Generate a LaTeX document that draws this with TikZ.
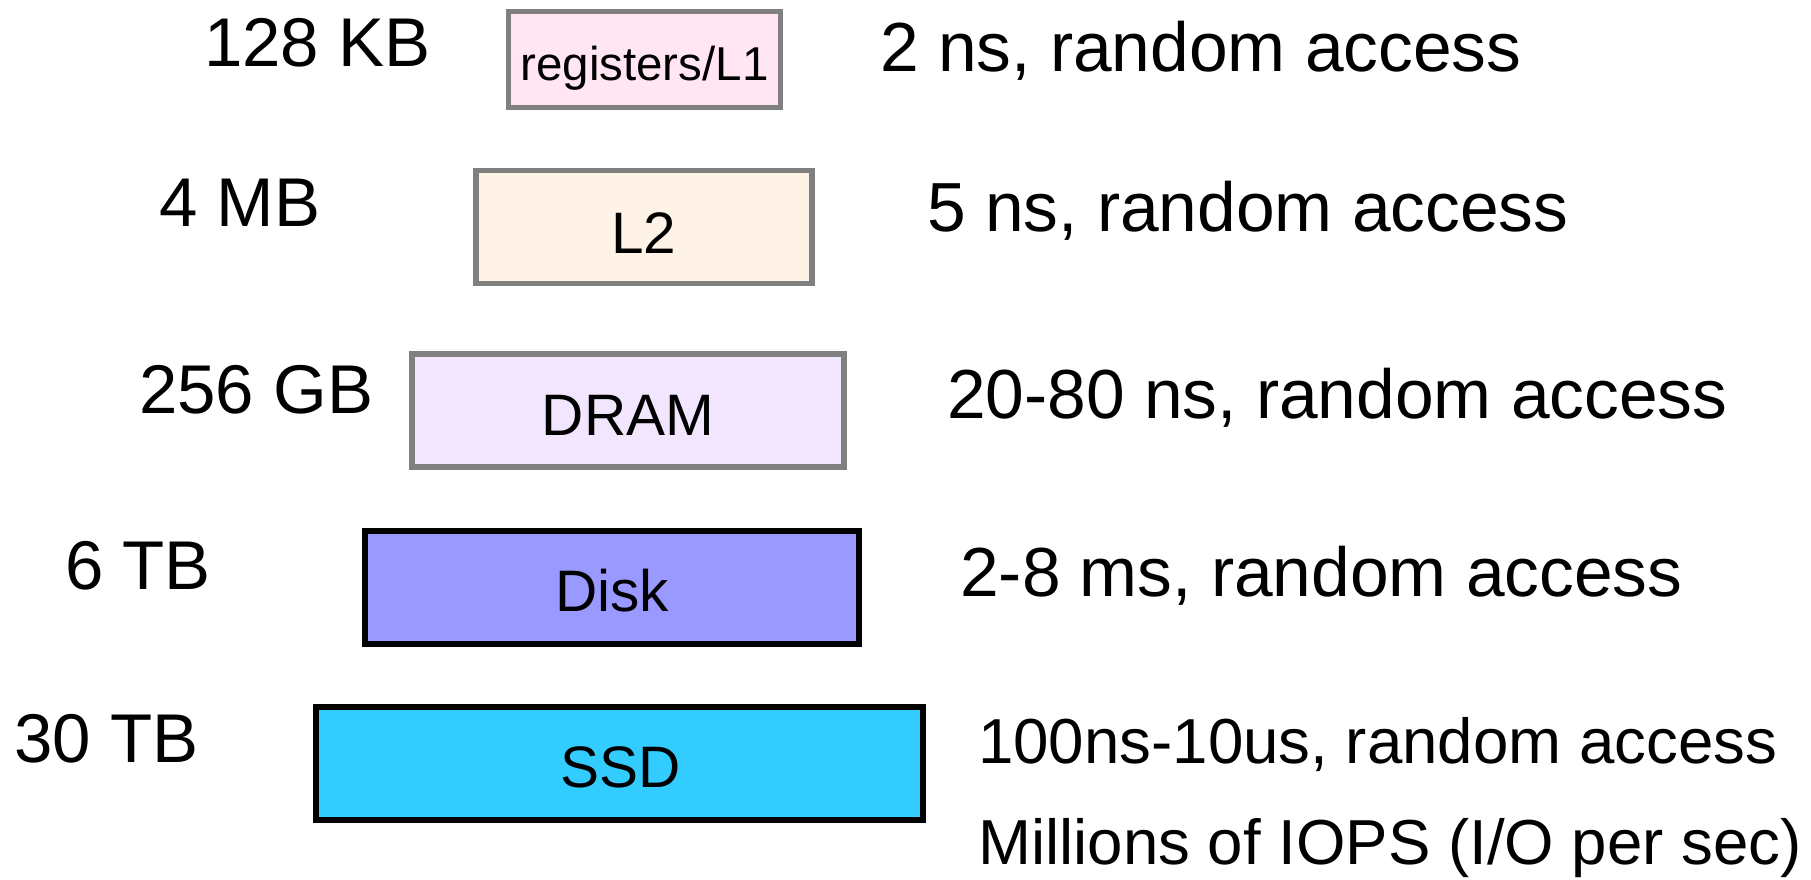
\documentclass[tikz,border=0pt]{standalone}
\usepackage{fontspec}
\setmainfont{Liberation Sans}
\definecolor{lonefill}{HTML}{FFE6F2}
\definecolor{ltwofill}{HTML}{FFF2E6}
\definecolor{dramfill}{HTML}{F2E6FF}
\definecolor{diskfill}{HTML}{9999FF}
\definecolor{ssdfill}{HTML}{33CCFF}
\definecolor{edgegray}{HTML}{808080}
\tikzset{
  tier/.style={draw, rectangle, line width=5.5pt, inner sep=0pt},
  fasttier/.style={tier, draw=edgegray},
  slowtier/.style={tier, draw=black, line width=6pt},
  sizelbl/.style={anchor=base west, inner sep=0pt, font=\fontsize{69}{80}\selectfont},
  speedlbl/.style={anchor=base west, inner sep=0pt, font=\fontsize{69.5}{80}\selectfont},
  ssdlbl/.style={anchor=base west, inner sep=0pt, font=\fontsize{63.6}{75}\selectfont},
  tiername/.style={anchor=base, inner sep=0pt, font=\fontsize{58.5}{68}\selectfont},
}
\begin{document}
\begin{tikzpicture}[x=1pt, y=-1pt]
\useasboundingbox (0,0) rectangle (1811,880);

% storage tiers
\node[fasttier, fill=lonefill, minimum width=272pt, minimum height=96pt]  (l1)   at (644.5,59.5) {};
\node[fasttier, fill=ltwofill, minimum width=336pt, minimum height=113pt] (l2)   at (644,227) {};
\node[fasttier, fill=dramfill, minimum width=432pt, minimum height=113pt] (dram) at (628,410.5) {};
\node[slowtier, fill=diskfill, minimum width=494pt, minimum height=113pt] (disk) at (612,587) {};
\node[slowtier, fill=ssdfill,  minimum width=607pt, minimum height=113pt] (ssd)  at (619.5,763) {};

% tier names
\node[tiername, font=\fontsize{47.5}{56}\selectfont] (l1t) at (644.5,81) {registers/L1};
\node[tiername] (l2t)   at (644,253) {L2};
\node[tiername] (dramt) at (628,435) {DRAM};
\node[tiername] (diskt) at (612,611) {Disk};
\node[tiername] (ssdt)  at (620.5,787) {SSD};

% capacities
\node[sizelbl] (l1s)   at (204,67)  {128 KB};
\node[sizelbl] (l2s)   at (159,226) {4 MB};
\node[sizelbl] (drams) at (139,413) {256 GB};
\node[sizelbl] (disks) at (65,589)  {6 TB};
\node[sizelbl] (ssds)  at (14,762)  {30 TB};

% access times
\node[speedlbl] (l1a)   at (880,72)  {2 ns, random access};
\node[speedlbl] (l2a)   at (927,231) {5 ns, random access};
\node[speedlbl] (drama) at (947,418) {20-80 ns, random access};
\node[speedlbl] (diska) at (960,596) {2-8 ms, random access};
\node[ssdlbl]   (ssda)  at (978,763) {100ns-10us, random access};
\node[ssdlbl]   (ssdb)  at (978,864) {Millions of IOPS (I/O per sec)};
\end{tikzpicture}
\end{document}
